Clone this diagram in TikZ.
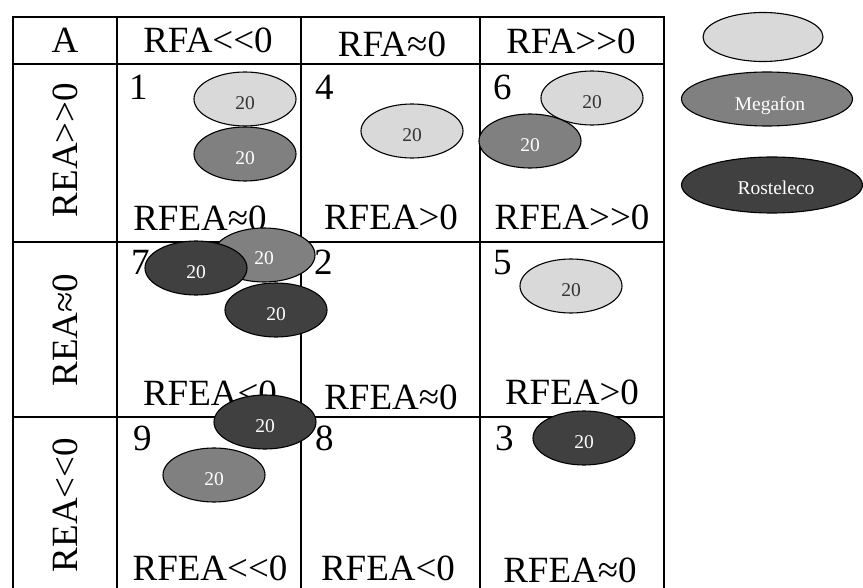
\documentclass[tikz,border=0pt]{standalone}
\usepackage{fontspec}
\setmainfont{Liberation Serif}[Ligatures=TeXOff]
\usetikzlibrary{shapes.geometric}
\definecolor{lightc}{HTML}{D9D9D9}
\definecolor{midc}{HTML}{808080}
\definecolor{darkc}{HTML}{404040}
\tikzset{
  tline/.style={line width=1.6pt, line cap=rect},
  lbl/.style={font=\fontsize{37}{40}\selectfont, inner sep=0pt, anchor=base},
  num/.style={lbl, anchor=base west},
  rowlbl/.style={font=\fontsize{37}{40}\selectfont, inner sep=0pt, rotate=90},
  bub/.style={ellipse, draw=black, line width=1.1pt, minimum width=102pt, minimum height=54pt, inner sep=0pt, font=\fontsize{19.5}{19.5}\selectfont},
  lb/.style={bub, fill=lightc, text=black!80},
  mb/.style={bub, fill=midc, text=white},
  db/.style={bub, fill=darkc, text=white},
}
\newcommand{\tw}{\raisebox{-10.5pt}[0pt][0pt]{20}}
\begin{document}
\begin{tikzpicture}[x=1pt,y=-1pt]
\useasboundingbox (0,0) rectangle (863,588);
\fill[white] (0,0) rectangle (863,588);
% table lines
\draw[tline] (13,17) -- (664,17);
\draw[tline] (13,64) -- (664,64);
\draw[tline] (13,242) -- (664,242);
\draw[tline] (13,417) -- (664,417);
\draw[tline] (13,17) -- (13,590);
\draw[tline] (117,17) -- (117,590);
\draw[tline] (301,17) -- (301,590);
\draw[tline] (480,17) -- (480,590);
\draw[tline] (664,17) -- (664,590);
% header
\node[lbl] (hA) at (65,53) {A};
\node[lbl] (h1) at (208,53) {RFA<<0};
\node[lbl] (h2) at (392,57) {RFA≈0};
\node[lbl] (h3) at (571,54) {RFA>>0};
% row labels
\node[rowlbl] (r1) at (65,150) {REA>>0};
\node[rowlbl] (r2) at (65,330) {REA≈0};
\node[rowlbl] (r3) at (65,505) {REA<<0};
% cell numbers
\node[num] (n1) at (129,100) {1};
\node[num] (n4) at (315,100) {4};
\node[num] (n6) at (493,100) {6};
\node[num] (n7) at (131,275) {7};
\node[num] (n2) at (314,275) {2};
\node[num] (n5) at (493,275) {5};
\node[num] (n9) at (133,450) {9};
\node[num] (n8) at (315,450) {8};
\node[num] (n3) at (495,450) {3};
% cell bottom labels
\node[lbl] (b11) at (200,231) {RFEA≈0};
\node[lbl] (b12) at (391,230) {RFEA>0};
\node[lbl] (b13) at (572,230) {RFEA>>0};
\node[lbl] (b21) at (210,405) {RFEA<0};
\node[lbl] (b22) at (391,409) {RFEA≈0};
\node[lbl] (b23) at (572,404) {RFEA>0};
\node[lbl] (b31) at (210,580) {RFEA<<0};
\node[lbl] (b32) at (388,580) {RFEA<0};
\node[lbl] (b33) at (570,582) {RFEA≈0};
% bubbles
\node[lb] (e1a) at (245,99) {\tw};
\node[mb] (e1b) at (245,154) {\tw};
\node[lb] (e4) at (412,131) {\tw};
\node[lb] (e6a) at (592,98) {\tw};
\node[mb] (e6b) at (530,141) {\tw};
\node[mb] (e7a) at (264,255) {\raisebox{-9.5pt}[0pt][0pt]{20}};
\node[db] (e7b) at (196,268) {\tw};
\node[db] (e7c) at (276,310) {\tw};
\node[lb] (e5) at (571,286) {\tw};
\node[db] (e9a) at (265,422) {\tw};
\node[mb] (e9b) at (214,475) {\tw};
\node[db] (e3) at (584,438) {\tw};
% legend
\node[bub, fill=lightc, minimum width=120pt, minimum height=49pt] (legL) at (763,37) {};
\node[bub, fill=midc, text=white, minimum width=171pt, minimum height=54pt] (legM) at (767,99) {\hspace*{6pt}\raisebox{-11.5pt}[0pt][0pt]{Megafon}};
\node[bub, fill=darkc, text=white, minimum width=181pt, minimum height=56pt] (legD) at (772,185) {\hspace*{8pt}\raisebox{-10pt}[0pt][0pt]{Rosteleco}};
\end{tikzpicture}
\end{document}
